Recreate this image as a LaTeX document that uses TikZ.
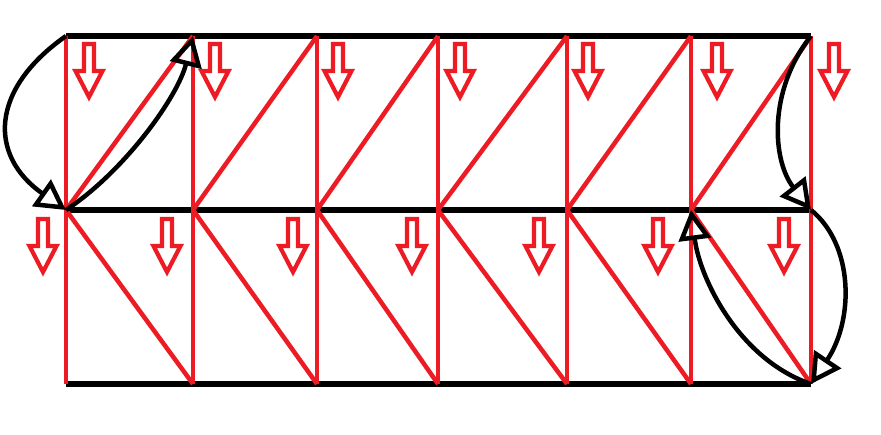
\documentclass[tikz,border=0pt]{standalone}
\usetikzlibrary{arrows.meta}
\definecolor{pred}{RGB}{237,28,36}
\begin{document}
\begin{tikzpicture}[x=1pt,y=-1pt,
  grid/.style={line width=5.5pt},
  redline/.style={pred,line width=4.5pt},
  curvearrow/.style={line width=4.5pt,-{Triangle[open,length=30pt,width=32pt]}},
  dnarrow/.pic={\draw[pred,line width=4.2pt,line join=miter]
     (-5,0) -- (5,0) -- (5,27) -- (13.5,27) -- (0,53) -- (-13.5,27) -- (-5,27) -- cycle;}]
\useasboundingbox[fill=white] (0,0) rectangle (881,434);
% grid coordinates
\foreach \i/\x in {0/66,1/193,2/317,3/438,4/567,5/691,6/811}{
  \coordinate (t\i) at (\x,36);
  \coordinate (m\i) at (\x,210);
  \coordinate (b\i) at (\x,384);
}
% black horizontals
\draw[grid] (t0) -- (t6);
\draw[grid] (m0) -- (m6);
\draw[grid] (b0) -- (b6);
% red verticals
\foreach \i in {0,...,6}{\draw[redline] (t\i) -- (b\i);}
% red diagonals
\foreach \i/\j in {0/1,1/2,2/3,3/4,4/5,5/6}{
  \draw[redline] (m\i) -- (t\j);
  \draw[redline] (m\i) -- (b\j);
}
% red down arrows, top row
\foreach \x in {89,215,338,460,588,717,834}{\pic at (\x,44) {dnarrow};}
% red down arrows, bottom row
\foreach \x in {43,167,293,412,539,658,784}{\pic at (\x,219) {dnarrow};}
% black curved arrows
\draw[curvearrow] (t0) .. controls (-11,90) and (-11,156) .. (m0);
\draw[curvearrow] (m0) .. controls (126,170) and (178,96) .. (t1);
\draw[curvearrow] (t6) .. controls (768,90) and (772,160) .. (m6);
\draw[curvearrow] (m6) .. controls (854,245) and (854,320) .. (b6);
\draw[curvearrow] (b6) .. controls (740,360) and (700,280) .. (m5);
\end{tikzpicture}
\end{document}
